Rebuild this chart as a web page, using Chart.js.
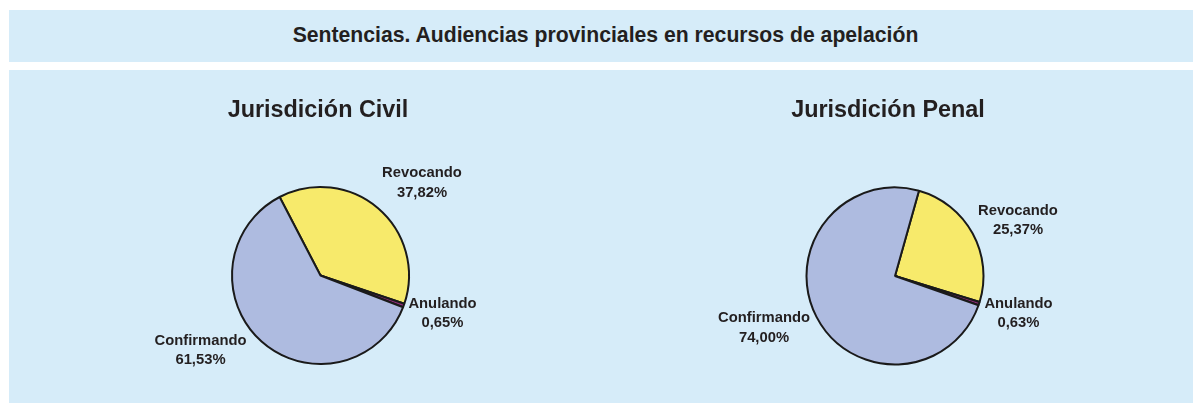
<!DOCTYPE html>
<html>
<head>
<meta charset="utf-8">
<script src="https://cdn.jsdelivr.net/npm/chart.js@4.4.1/dist/chart.umd.min.js"></script>
<style>
  html, body { margin:0; padding:0; background:#ffffff; width:1193px; height:403px; overflow:hidden; }
  .box { position:absolute; background:#d6ecf9; }
  #titlebar { left:9px; top:10px; width:1184px; height:52px; }
  #titlebar div { position:absolute; left:9px; right:0; top:0; height:52px; line-height:49px; text-align:center;
    font-family:"Liberation Sans", Arial, sans-serif; font-weight:bold; font-size:21.2px; color:#231f20; }
  #panel { left:9px; top:70px; width:1184px; height:333px; }
  canvas { position:absolute; }
</style>
</head>
<body>
<div class="box" id="titlebar"><div id="mainTitle"></div></div>
<div class="box" id="panel"></div>
<canvas id="civil" style="left:9px; top:70px;" width="580" height="333"></canvas>
<canvas id="penal" style="left:596px; top:70px;" width="597" height="333"></canvas>
<script>
// ---- data ----
const mainTitle = 'Sentencias. Audiencias provinciales en recursos de apelación';
const categories = ['Revocando', 'Anulando', 'Confirmando'];
const civilTitle = 'Jurisdición Civil';
const civilValues = [37.82, 0.65, 61.53];
const penalTitle = 'Jurisdición Penal';
const penalValues = [25.37, 0.63, 74.00];
const sliceColors = ['#f7ea6b', '#8e2b7a', '#aebbe0'];

document.getElementById('mainTitle').textContent = mainTitle;

const FONT = '"Liberation Sans", Arial, sans-serif';
const TEXT = '#231f20';

function fmt(v) { return v.toFixed(2).replace('.', ',') + '%'; }

// plugin: draws the pie title and the slice labels relative to the drawn pie centre
const labelPlugin = {
  id: 'pieLabels',
  afterDraw(chart, args, opts) {
    const ctx = chart.ctx;
    const arc = chart.getDatasetMeta(0).data[0];
    const cx = arc.x, cy = arc.y;
    ctx.save();
    ctx.fillStyle = TEXT;
    ctx.textAlign = 'center';
    ctx.textBaseline = 'middle';
    ctx.font = 'bold 23.4px ' + FONT;
    ctx.fillText(opts.title, cx + opts.titleOffset[0], cy + opts.titleOffset[1]);
    ctx.font = 'bold 14.8px ' + FONT;
    const vals = chart.data.datasets[0].data;
    chart.data.labels.forEach((lab, i) => {
      const [dx, dy] = opts.offsets[i];
      ctx.fillText(lab, cx + dx, cy + dy - 9.8);
      ctx.fillText(fmt(vals[i]), cx + dx, cy + dy + 9.8);
    });
    ctx.restore();
  }
};

function makePie(id, values, title, rotation, padding, titleOffset, offsets) {
  return new Chart(document.getElementById(id), {
    type: 'pie',
    data: {
      labels: categories,
      datasets: [{
        data: values,
        backgroundColor: sliceColors,
        borderColor: '#1a1a1a',
        borderWidth: 2,
        radius: 88.5
      }]
    },
    options: {
      responsive: false,
      animation: false,
      events: [],
      rotation: rotation,
      layout: { padding: padding },
      plugins: {
        legend: { display: false },
        tooltip: { enabled: false },
        title: { display: false },
        pieLabels: { title: title, titleOffset: titleOffset, offsets: offsets }
      }
    },
    plugins: [labelPlugin]
  });
}

makePie('civil', civilValues, civilTitle, -27.5,
  { left: 211.5, right: 168.5, top: 105.5, bottom: 27.5 },
  [-2.5, -164.5],
  [[101.5, -92.5], [122, 38], [-120, 75]]);

makePie('penal', penalValues, penalTitle, 15.7,
  { left: 199, right: 198, top: 106, bottom: 27 },
  [-7, -165],
  [[123, -55.5], [123.5, 37.5], [-131, 52]]);
</script>
</body>
</html>
